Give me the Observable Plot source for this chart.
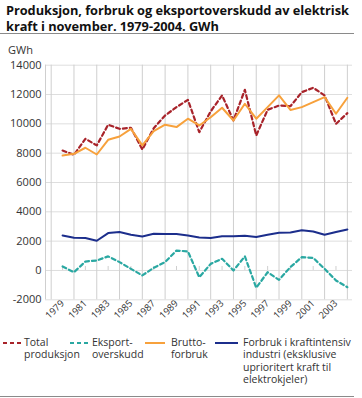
<!DOCTYPE html>
<html><head><meta charset="utf-8">
<script src="https://cdn.jsdelivr.net/npm/d3@7"></script>
<script src="https://cdn.jsdelivr.net/npm/@observablehq/plot@0.6"></script>
<style>
body{margin:0;background:#fff;font-family:"Open Sans",sans-serif;}
#wrap{position:relative;width:362px;height:398px;overflow:hidden;background:#fff}
#title{position:absolute;left:6px;top:2px;font-weight:bold;font-size:12.8px;line-height:16px;color:#111;white-space:nowrap;letter-spacing:-0.05px}
#rule1{position:absolute;left:0;top:33px;width:354px;border-top:1px solid #8a8a8a}
#unit{position:absolute;left:8px;top:42px;font-size:11px;color:#333}
#chart{position:absolute;left:0;top:0}
#legend{position:absolute;left:0;top:336px;width:362px;height:60px;font-size:10.5px;line-height:12.3px;color:#333}
.item{position:absolute;top:0}
.item svg{position:absolute;top:2px}
.item div{position:absolute;top:0;white-space:nowrap;line-height:12.3px}
#rule2{position:absolute;left:0;top:396px;width:354px;border-top:1px solid #8a8a8a}
</style></head><body>
<div id="wrap">
 <div id="title">Produksjon, forbruk og eksportoverskudd av elektrisk<br>kraft i november. 1979-2004. GWh</div>
 <div id="rule1"></div>
 <div id="unit">GWh</div>
 <div id="chart"></div>
 <div id="legend"></div>
 <div id="rule2"></div>
</div>
<script>
const years = d3.range(1979, 2005);
const totalProduksjon = [8180, 7890, 8980, 8530, 9940, 9660, 9730, 8250, 9700, 10570, 11140, 11640, 9430, 10850, 11940, 10230, 12320, 9210, 10960, 11250, 11200, 12160, 12460, 11940, 10000, 10730];
const eksportoverskudd = [270, -120, 610, 680, 960, 570, 110, -340, 180, 570, 1360, 1300, -460, 450, 800, 0, 960, -1180, -120, -640, 230, 910, 860, 110, -680, -1140];
const bruttoforbruk = [7840, 7960, 8370, 7910, 8910, 9140, 9660, 8530, 9500, 9940, 9780, 10350, 9890, 10450, 11100, 10230, 11370, 10350, 11140, 11940, 10950, 11140, 11480, 11820, 10690, 11780];
const kraftintensiv = [2390, 2230, 2210, 2030, 2550, 2620, 2440, 2320, 2500, 2480, 2480, 2390, 2250, 2210, 2340, 2340, 2370, 2280, 2440, 2570, 2590, 2750, 2660, 2440, 2620, 2800];
const yTicks = d3.range(-2000, 14001, 2000);
const gridYears = d3.range(1978, 2005, 2);
const labelYears = d3.range(1979, 2004, 2);

const series = [
  {name: "Total produksjon", lines: ["Total", "produksjon"], values: totalProduksjon, color: "#a8232a", dash: "4,3", width: 2.2},
  {name: "Eksportoverskudd", lines: ["Eksport-", "overskudd"], values: eksportoverskudd, color: "#2aa8a2", dash: "4,3", width: 2.2},
  {name: "Bruttoforbruk", lines: ["Brutto-", "forbruk"], values: bruttoforbruk, color: "#f7a13c", dash: null, width: 2},
  {name: "Forbruk i kraftintensiv industri", lines: ["Forbruk i kraftintensiv", "industri (eksklusive", "uprioritert kraft til", "elektrokjeler)"], values: kraftintensiv, color: "#1c2e8c", dash: null, width: 2}
];
const legendPos = [{sx: 3, sw: 19, tx: 24}, {sx: 70, sw: 19, tx: 92}, {sx: 145, sw: 20, tx: 171}, {sx: 215, sw: 23, tx: 243}];

const lineMarks = series.map(s => Plot.line(years.map((yr, i) => ({year: yr, value: s.values[i]})), {
  x: "year", y: "value", stroke: s.color, strokeWidth: s.width, strokeDasharray: s.dash || undefined
}));

const H = 340;
const chart = Plot.plot({
  width: 362, height: H,
  marginLeft: 45, marginRight: 10, marginTop: 64.7, marginBottom: H - 299.3,
  style: {fontFamily: "'Open Sans', sans-serif", background: "transparent", overflow: "visible"},
  x: {type: "linear", domain: [1977.5, 2004.45]},
  y: {domain: [-2000, 14000]},
  marks: [
    Plot.ruleY(yTicks, {stroke: "#dedede", strokeWidth: 1}),
    Plot.ruleX(gridYears, {stroke: "#cfcfcf", strokeWidth: 1}),
    Plot.ruleX([1977.5], {stroke: "#cfcfcf", strokeWidth: 1}),
    Plot.ruleX(labelYears, {y1: 0, y2: 0, insetTop: -4, stroke: "#cfcfcf"}),
    Plot.axisY({ticks: yTicks, tickSize: 0, tickPadding: 4, tickFormat: d => String(d), label: null, fontSize: 11, color: "#333"}),
    Plot.axisX({ticks: labelYears, tickSize: 0, tickRotate: -45, tickPadding: 2, tickFormat: d => String(d), label: null, fontSize: 9.5, color: "#333"}),
    ...lineMarks
  ]
});
document.getElementById("chart").appendChild(chart);

const legend = document.getElementById("legend");
series.forEach((s, i) => {
  const p = legendPos[i];
  const item = document.createElement("div");
  item.className = "item";
  item.style.left = "0px";
  const sw = `<svg width="${p.sw}" height="8" style="left:${p.sx}px;top:3px"><line x1="0" y1="4" x2="${p.sw}" y2="4" stroke="${s.color}" stroke-width="${s.width}" ${s.dash ? `stroke-dasharray="${s.dash}"` : ""}/></svg>`;
  const txt = `<div style="left:${p.tx}px">${s.lines.join("<br>")}</div>`;
  item.innerHTML = sw + txt;
  legend.appendChild(item);
});
</script>
</body></html>
